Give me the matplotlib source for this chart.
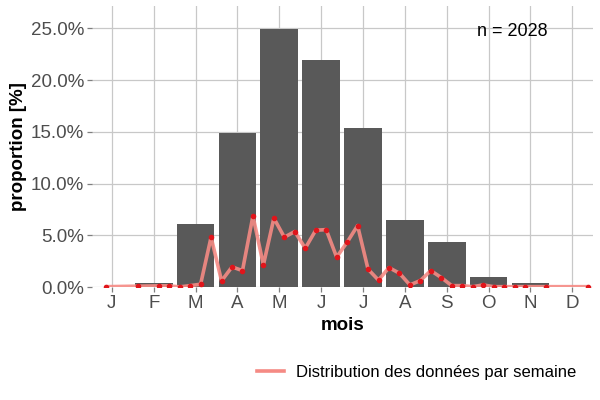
import matplotlib
matplotlib.use("Agg")
import matplotlib.pyplot as plt
from matplotlib.lines import Line2D

plt.rcParams['font.family'] = ['Liberation Sans', 'DejaVu Sans']

months = ['J', 'F', 'M', 'A', 'M', 'J', 'J', 'A', 'S', 'O', 'N', 'D']
monthly_pct = [0.0, 0.4, 6.1, 14.85, 24.95, 21.9, 15.4, 6.5, 4.4, 0.95, 0.4, 0.0]

week_index = [0, 3, 5, 6, 7, 8, 9, 10, 11, 12, 13, 14, 15, 16, 17, 18, 19, 20,
              21, 22, 23, 24, 25, 26, 27, 28, 29, 30, 31, 32, 33, 34, 35, 36,
              37, 38, 39, 40, 42, 46]
weekly_pct = [0.05, 0.1, 0.13, 0.13, 0.03, 0.15, 0.29, 4.83, 0.61, 1.96, 1.6,
              6.88, 2.15, 6.66, 4.83, 5.37, 3.76, 5.5, 5.56, 2.9, 4.34, 5.95,
              1.74, 0.68, 1.89, 1.35, 0.22, 0.64, 1.6, 0.93, 0.15, 0.15, 0.05,
              0.22, 0.05, 0.05, 0.05, 0.05, 0.05, 0.05]
n_total = 2028
legend_label = "Distribution des données par semaine"

fig = plt.figure(figsize=(6, 4), dpi=100)
ax = fig.add_axes([0.153, 0.282, 0.835, 0.703])

month_pos = list(range(1, 13))
ax.bar(month_pos, monthly_pct, width=0.9, color='#595959', zorder=2)

week_x = [0.87 + k / 4 for k in week_index]
ax.plot(week_x, weekly_pct, color='#F58A84', lw=2.6, alpha=0.9, zorder=3,
        solid_joinstyle='round')
ax.plot(week_x, weekly_pct, linestyle='none', marker='o', ms=3.0,
        color='#E0151B', zorder=4)

ax.set_xlim(0.52, 12.49)
ax.set_ylim(0, 27.15)
ax.set_xticks(month_pos)
ax.set_xticklabels(months)
yt = [0, 5, 10, 15, 20, 25]
ax.set_yticks(yt)
ax.set_yticklabels([f"{v:.1f}%" for v in yt])

ax.grid(True, color='#C8C8C8', lw=0.9, zorder=0)
ax.set_axisbelow(True)
for s in ax.spines.values():
    s.set_visible(False)
ax.tick_params(axis='both', colors='#7F7F7F', labelcolor='#4D4D4D',
               labelsize=13.5, length=3.5, width=0.9, pad=2)

ax.set_xlabel('mois', fontsize=13.5, fontweight='bold', labelpad=4)
ax.set_ylabel('proportion [%]', fontsize=13.5, fontweight='bold', labelpad=3)

ax.text(0.84, 0.91, f"n = {n_total}", transform=ax.transAxes, fontsize=13,
        ha='center', va='center', color='black')

handle = Line2D([], [], color='#F58A84', lw=2.6)
fig.legend([handle], [legend_label], loc='center right',
           bbox_to_anchor=(0.985, 0.07), frameon=False, fontsize=12,
           handlelength=1.6, handletextpad=0.7)

fig.savefig('out.png', dpi=100)
